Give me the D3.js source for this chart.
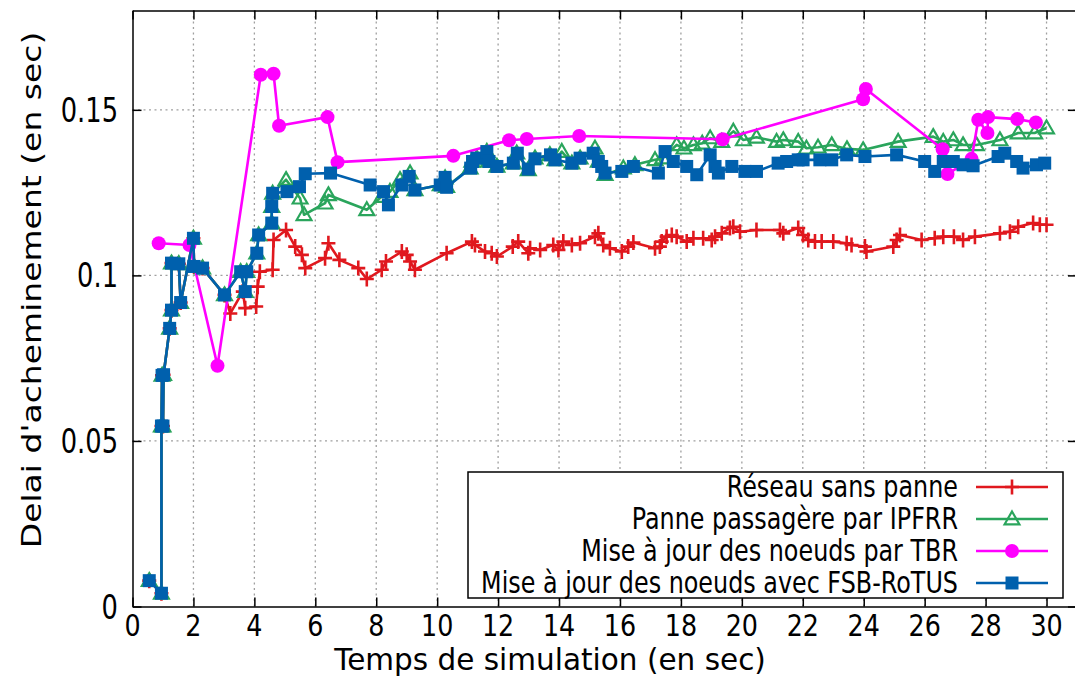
<!DOCTYPE html>
<html>
<head>
<meta charset="utf-8">
<script src="https://cdn.jsdelivr.net/npm/d3@7"></script>
<style>
  html, body { margin: 0; padding: 0; background: #fff; }
  svg { display: block; }
  text { font-family: "DejaVu Sans", sans-serif; fill: #000; }
</style>
</head>
<body>
<svg id="chart" width="1075" height="678"></svg>
<script>
// Délai d'acheminement mesuré [temps (s), délai (s)]
const reseauSansPanne = [
  [0.55,0.0078],[0.95,0.0040],[0.95,0.0545],[0.97,0.0698],[1.0,0.0545],[1.02,0.0700],
  [1.22,0.0840],[1.28,0.0895],[1.28,0.1037],[1.52,0.1035],[1.58,0.0918],[2.0,0.1112],
  [2.02,0.1027],[2.3,0.1022],[3.02,0.0941],[3.21,0.0885],[3.62,0.0951],[3.70,0.0901],
  [4.06,0.0906],[4.11,0.0966],[4.18,0.1011],[4.6,0.1017],[4.63,0.1107],[5.04,0.1137],
  [5.34,0.1087],[5.56,0.1062],[5.67,0.1022],[6.32,0.1052],[6.43,0.1097],[6.79,0.1047],
  [7.41,0.1022],[7.69,0.0989],[8.18,0.1017],[8.32,0.1042],[8.84,0.1072],[9.0,0.1062],
  [9.11,0.1042],[9.27,0.1017],[10.31,0.1067],[11.14,0.1102],[11.24,0.1092],[11.57,0.1072],
  [11.79,0.1067],[11.96,0.1057],[12.48,0.1087],[12.66,0.1102],[12.99,0.1067],[13.05,0.1082],
  [13.38,0.1077],[13.81,0.1092],[13.98,0.1077],[14.14,0.1102],[14.42,0.1092],[14.69,0.1097],
  [15.18,0.1117],[15.29,0.1127],[15.45,0.1092],[15.67,0.1082],[16.06,0.1072],[16.27,0.1087],
  [16.44,0.1099],[17.15,0.1082],[17.31,0.1087],[17.37,0.1102],[17.53,0.1117],[17.7,0.1122],
  [17.86,0.1117],[18.19,0.1102],[18.41,0.1112],[18.73,0.1112],[19.01,0.1107],[19.12,0.1117],
  [19.34,0.1127],[19.61,0.1143],[19.72,0.1147],[19.94,0.1132],[20.48,0.1137],[21.25,0.1137],
  [21.36,0.1127],[21.85,0.1143],[22.01,0.1122],[22.18,0.1107],[22.4,0.1102],[22.62,0.1102],
  [23.0,0.1102],[23.44,0.1097],[23.6,0.1092],[24.04,0.1087],[24.09,0.1072],[24.97,0.1087],
  [25.08,0.1107],[25.19,0.1122],[25.9,0.1107],[26.33,0.1112],[26.61,0.1117],[26.96,0.1117],
  [27.26,0.1107],[27.65,0.1117],[28.47,0.1127],[28.8,0.1132],[29.07,0.1147],[29.56,0.1158],
  [29.78,0.1153],[30.0,0.1153]
];

const panneIPFRR = [
  [0.55,0.0078],[0.95,0.0040],[0.95,0.0545],[0.97,0.0698],[1.0,0.0545],[1.02,0.0700],
  [1.22,0.0840],[1.28,0.0895],[1.28,0.1037],[1.52,0.1035],[1.58,0.0918],[2.0,0.1112],
  [2.02,0.1027],[2.3,0.1022],[3.02,0.0941],[3.55,0.1011],[3.70,0.0951],[3.75,0.1011],
  [4.08,0.1067],[4.14,0.1122],[4.57,0.1158],[4.57,0.1208],[4.60,0.1248],[5.04,0.1289],
  [5.5,0.1233],[5.63,0.1183],[6.32,0.1218],[6.43,0.1243],[7.69,0.1198],[8.18,0.1238],
  [8.45,0.1253],[8.78,0.1289],[9.11,0.1309],[9.27,0.1258],[10.1,0.1273],[10.26,0.1294],
  [10.31,0.1268],[11.08,0.1324],[11.14,0.1344],[11.3,0.1354],[11.63,0.1374],[11.68,0.1344],
  [11.96,0.1329],[12.5,0.1339],[12.61,0.1369],[12.99,0.1319],[13.21,0.1354],[13.7,0.1364],
  [13.87,0.1349],[14.09,0.1374],[14.42,0.1339],[14.69,0.1354],[15.18,0.1384],[15.29,0.1344],
  [15.51,0.1304],[16.11,0.1324],[16.49,0.1334],[17.15,0.1349],[17.4,0.1354],[17.86,0.1394],
  [18.1,0.1384],[18.41,0.1394],[18.7,0.1399],[18.96,0.1415],[19.34,0.1404],[19.72,0.1435],
  [20.05,0.1409],[20.48,0.1417],[21.14,0.1404],[21.36,0.1409],[21.85,0.1404],[22.12,0.1384],
  [22.5,0.1387],[22.95,0.1394],[23.45,0.1382],[23.98,0.1379],[25.13,0.1404],[26.28,0.1419],
  [26.61,0.1404],[26.94,0.1409],[27.26,0.1394],[27.7,0.1394],[28.47,0.1409],[29.07,0.1430],
  [29.61,0.1430],[30.0,0.1445]
];

const miseAJourTBR = [
  [0.86,0.1097],[1.87,0.1092],[2.79,0.0727],[4.21,0.1606],[4.63,0.1609],[4.81,0.1452],
  [6.4,0.1478],[6.73,0.1342],[10.53,0.1361],[12.36,0.1408],[12.94,0.1412],[14.66,0.1421],
  [19.37,0.1411],[23.98,0.1532],[24.07,0.1563],[26.59,0.1381],[26.75,0.1306],[27.54,0.1352],
  [27.76,0.1470],[28.06,0.1430],[28.08,0.1478],[29.04,0.1472],[29.65,0.1462]
];

const miseAJourFSB = [
  [0.55,0.0078],[0.95,0.0040],[0.95,0.0545],[0.97,0.0698],[1.0,0.0545],[1.02,0.0700],
  [1.22,0.0840],[1.28,0.0895],[1.28,0.1037],[1.52,0.1035],[1.58,0.0918],[2.0,0.1112],
  [2.02,0.1027],[2.3,0.1022],[3.02,0.0941],[3.55,0.1011],[3.70,0.0951],[3.75,0.1011],
  [4.08,0.1067],[4.14,0.1122],[4.57,0.1158],[4.57,0.1208],[4.60,0.1248],[5.07,0.1253],
  [5.48,0.1268],[5.67,0.1307],[6.5,0.1309],[7.8,0.1273],[8.24,0.1253],[8.4,0.1213],
  [8.84,0.1273],[9.08,0.1299],[9.27,0.1258],[10.1,0.1273],[10.26,0.1296],[10.31,0.1266],
  [11.1,0.1324],[11.16,0.1344],[11.3,0.1354],[11.63,0.1374],[11.7,0.1344],[11.96,0.1329],
  [12.5,0.1339],[12.63,0.1369],[12.99,0.1321],[13.21,0.1352],[13.72,0.1364],[13.87,0.1349],
  [14.42,0.1339],[14.69,0.1354],[15.12,0.1369],[15.29,0.1344],[15.4,0.1329],[15.51,0.1309],
  [16.06,0.1314],[16.44,0.1329],[17.26,0.1309],[17.48,0.1374],[17.75,0.1344],[18.19,0.1329],
  [18.52,0.1304],[18.96,0.1364],[19.12,0.1329],[19.23,0.1309],[19.67,0.1329],[20.1,0.1314],
  [20.48,0.1314],[21.19,0.1339],[21.47,0.1344],[21.85,0.1349],[22.01,0.1349],[22.56,0.1349],
  [22.95,0.1349],[23.44,0.1364],[24.04,0.1359],[25.08,0.1364],[26.0,0.1344],[26.33,0.1314],
  [26.61,0.1344],[26.94,0.1344],[27.26,0.1334],[27.59,0.1331],[28.41,0.1359],[28.63,0.1369],
  [29.02,0.1344],[29.23,0.1324],[29.67,0.1334],[29.94,0.1339]
];

const seriesNames = [
  "Réseau sans panne",
  "Panne passagère par IPFRR",
  "Mise à jour des noeuds par TBR",
  "Mise à jour des noeuds avec FSB-RoTUS"
];
const seriesColors = ["#e0181e", "#2aa55c", "#ff00ff", "#0060ad"];
const seriesSymbols = ["plus", "triangle", "circle", "square"];

const xTicks = d3.range(0, 31, 2);
const yTicks = [0, 0.05, 0.1, 0.15];
const yTickLabels = ["0", "0.05", "0.1", "0.15"];

const plot = { left: 132.5, right: 1077, top: 10.5, bottom: 606.5 };
const squeeze = 0.78;   // horizontal text compression

const svg = d3.select("#chart");
const x = d3.scaleLinear().domain([0, 31]).range([plot.left, plot.right]);
const y = d3.scaleLinear().domain([0, 0.18]).range([plot.bottom, plot.top]);

// grid
const grid = svg.append("g").attr("stroke", "#a0a0a0").attr("stroke-width", 1.3)
  .attr("stroke-dasharray", "2,3.5");
grid.selectAll("line.gx").data(xTicks.filter(t => t > 0)).join("line")
  .attr("x1", d => x(d)).attr("x2", d => x(d)).attr("y1", plot.top).attr("y2", plot.bottom);
grid.selectAll("line.gy").data(yTicks.filter(t => t > 0)).join("line")
  .attr("y1", d => y(d)).attr("y2", d => y(d)).attr("x1", plot.left).attr("x2", plot.right);

// axes with inward ticks, mirrored on the opposite sides
const tickLen = 9;
const axisBottom = d3.axisBottom(x).tickValues(xTicks).tickSizeInner(-tickLen).tickSizeOuter(0).tickFormat("");
const axisTop = d3.axisTop(x).tickValues(xTicks).tickSizeInner(-tickLen).tickSizeOuter(0).tickFormat("");
const axisLeft = d3.axisLeft(y).tickValues(yTicks).tickSizeInner(-tickLen).tickSizeOuter(0).tickFormat("");
const axisRight = d3.axisRight(y).tickValues(yTicks).tickSizeInner(-tickLen).tickSizeOuter(0).tickFormat("");

function styleAxis(g) {
  g.selectAll("path.domain").attr("stroke", "#000").attr("stroke-width", 1.5);
  g.selectAll(".tick line").attr("stroke", "#000").attr("stroke-width", 1.5);
}
svg.append("g").attr("transform", `translate(0,${plot.bottom})`).call(axisBottom).call(styleAxis);
svg.append("g").attr("transform", `translate(0,${plot.top})`).call(axisTop).call(styleAxis);
svg.append("g").attr("transform", `translate(${plot.left},0)`).call(axisLeft).call(styleAxis);
svg.append("g").attr("transform", `translate(${plot.right},0)`).call(axisRight).call(styleAxis);

// tick labels
svg.append("g").selectAll("text").data(xTicks).join("text")
  .attr("transform", d => `translate(${x(d)},${636}) scale(0.82,1)`)
  .attr("text-anchor", "middle").attr("font-size", 31)
  .text(d => d);
svg.append("g").selectAll("text").data(yTicks).join("text")
  .attr("transform", d => `translate(118,${y(d) + 12}) scale(${squeeze},1)`)
  .attr("text-anchor", "end").attr("font-size", 33)
  .text((d, i) => yTickLabels[i]);

// axis titles
svg.append("text")
  .attr("transform", `translate(550,${670}) scale(1.0,1)`)
  .attr("text-anchor", "middle").attr("font-size", 29.5)
  .text("Temps de simulation (en sec)");
svg.append("text")
  .attr("transform", `translate(41,${290}) rotate(-90) scale(1,${squeeze})`)
  .attr("text-anchor", "middle").attr("font-size", 33)
  .text("Delai d'acheminement (en sec)");

// marker drawing
function drawMarker(sel, kind, color) {
  if (kind === "plus") {
    sel.append("path").attr("d", "M-7,0H7M0,-7.5V7.5")
      .attr("stroke", color).attr("stroke-width", 2.6).attr("fill", "none");
  } else if (kind === "triangle") {
    sel.append("path").attr("d", d3.symbol(d3.symbolTriangle, 95)())
      .attr("transform", "translate(0,1)")
      .attr("stroke", color).attr("stroke-width", 2.2).attr("fill", "none");
  } else if (kind === "circle") {
    sel.append("circle").attr("r", 7).attr("fill", color);
  } else {
    sel.append("rect").attr("x", -6.5).attr("y", -6.5).attr("width", 13).attr("height", 13).attr("fill", color);
  }
}

const allSeries = [reseauSansPanne, panneIPFRR, miseAJourTBR, miseAJourFSB];
const line = d3.line().x(d => x(d[0])).y(d => y(d[1]));

allSeries.forEach((data, i) => {
  const g = svg.append("g");
  g.append("path").datum(data).attr("d", line)
    .attr("fill", "none").attr("stroke", seriesColors[i]).attr("stroke-width", 2.6)
    .attr("stroke-linejoin", "round");
  g.selectAll("g.pt").data(data).join("g")
    .attr("transform", d => `translate(${x(d[0])},${y(d[1])})`)
    .each(function () { drawMarker(d3.select(this), seriesSymbols[i], seriesColors[i]); });
});

// legend
const legend = svg.append("g");
legend.append("rect").attr("x", 468).attr("y", 472).attr("width", 595).attr("height", 126)
  .attr("fill", "#fff").attr("stroke", "#000").attr("stroke-width", 1.5);
const rowY = [487, 519, 551, 583];
seriesNames.forEach((name, i) => {
  legend.append("text")
    .attr("transform", `translate(958,${rowY[i] + 10}) scale(0.795,1)`)
    .attr("text-anchor", "end").attr("font-size", 30)
    .text(name);
  legend.append("line").attr("x1", 976).attr("x2", 1048).attr("y1", rowY[i]).attr("y2", rowY[i])
    .attr("stroke", seriesColors[i]).attr("stroke-width", 2.6);
  const m = legend.append("g").attr("transform", `translate(1012,${rowY[i]})`);
  drawMarker(m, seriesSymbols[i], seriesColors[i]);
});
</script>
</body>
</html>
